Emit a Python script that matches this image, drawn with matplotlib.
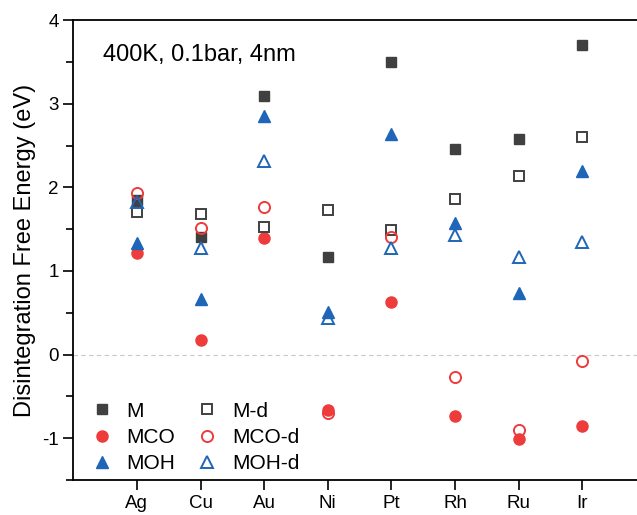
import matplotlib.pyplot as plt
import numpy as np
from matplotlib.ticker import MultipleLocator

plt.rcParams['font.family'] = ['Liberation Sans', 'DejaVu Sans']
plt.rcParams['axes.unicode_minus'] = False

metals = ['Ag', 'Cu', 'Au', 'Ni', 'Pt', 'Rh', 'Ru', 'Ir']

# disintegration free energies (eV)
M      = [1.85, 1.41, 3.09, 1.17, 3.50, 2.46, 2.58, 3.70]
M_d    = [1.70, 1.68, 1.52, 1.73, 1.49, 1.86, 2.14, 2.60]
MCO    = [1.22, 0.18, 1.39, -0.66, 0.63, -0.73, -1.01, -0.86]
MCO_d  = [1.93, 1.51, 1.77, -0.70, 1.41, -0.27, -0.90, -0.08]
MOH    = [1.34, 0.66, 2.85, 0.51, 2.64, 1.57, 0.74, 2.20]
MOH_d  = [1.82, 1.28, 2.32, 0.44, 1.28, 1.43, 1.17, 1.35]

gray = '#404040'
red = '#ee3b3b'
blue = '#1f65b8'

x = np.arange(1, len(metals) + 1)

fig = plt.figure(figsize=(6.37, 5.15), dpi=100)
ax = fig.add_axes([0.115, 0.068, 0.885, 0.893])

ax.axhline(0, color='#c8c8c8', lw=0.8, ls=(0, (4, 3)), zorder=0)

ax.plot(x, M, 's', color=gray, ms=7, ls='none', label='M')
ax.plot(x, MCO, 'o', color=red, ms=8, ls='none', label='MCO')
ax.plot(x, MOH, '^', color=blue, ms=8.5, ls='none', label='MOH')
ax.plot(x, M_d, 's', mfc='none', mec=gray, mew=1.4, ms=7, ls='none', label='M-d')
ax.plot(x, MCO_d, 'o', mfc='none', mec=red, mew=1.4, ms=8, ls='none', label='MCO-d')
ax.plot(x, MOH_d, '^', mfc='none', mec=blue, mew=1.4, ms=8.5, ls='none', label='MOH-d')

ax.set_xlim(0, 8.86)
ax.set_ylim(-1.5, 4)
ax.set_xticks(x)
ax.set_xticklabels(metals)
ax.yaxis.set_major_locator(MultipleLocator(1))
ax.yaxis.set_minor_locator(MultipleLocator(0.5))
ax.tick_params(axis='both', which='major', direction='out', length=7, width=1.2, labelsize=13.5)
ax.tick_params(axis='y', which='minor', direction='out', length=5, width=1.2)
ax.spines['right'].set_visible(False)
for s in ['left', 'bottom', 'top']:
    ax.spines[s].set_linewidth(1.3)

ax.set_ylabel('Disintegration Free Energy (eV)', fontsize=17, labelpad=4)
ax.text(0.47, 3.58, '400K, 0.1bar, 4nm', fontsize=17, va='center')

ax.legend(ncol=2, loc='lower left', frameon=False, fontsize=15,
          handletextpad=0.6, columnspacing=0.9, labelspacing=0.35,
          handlelength=1.2, bbox_to_anchor=(-0.005, -0.026))

fig.savefig('out.png', dpi=100)
